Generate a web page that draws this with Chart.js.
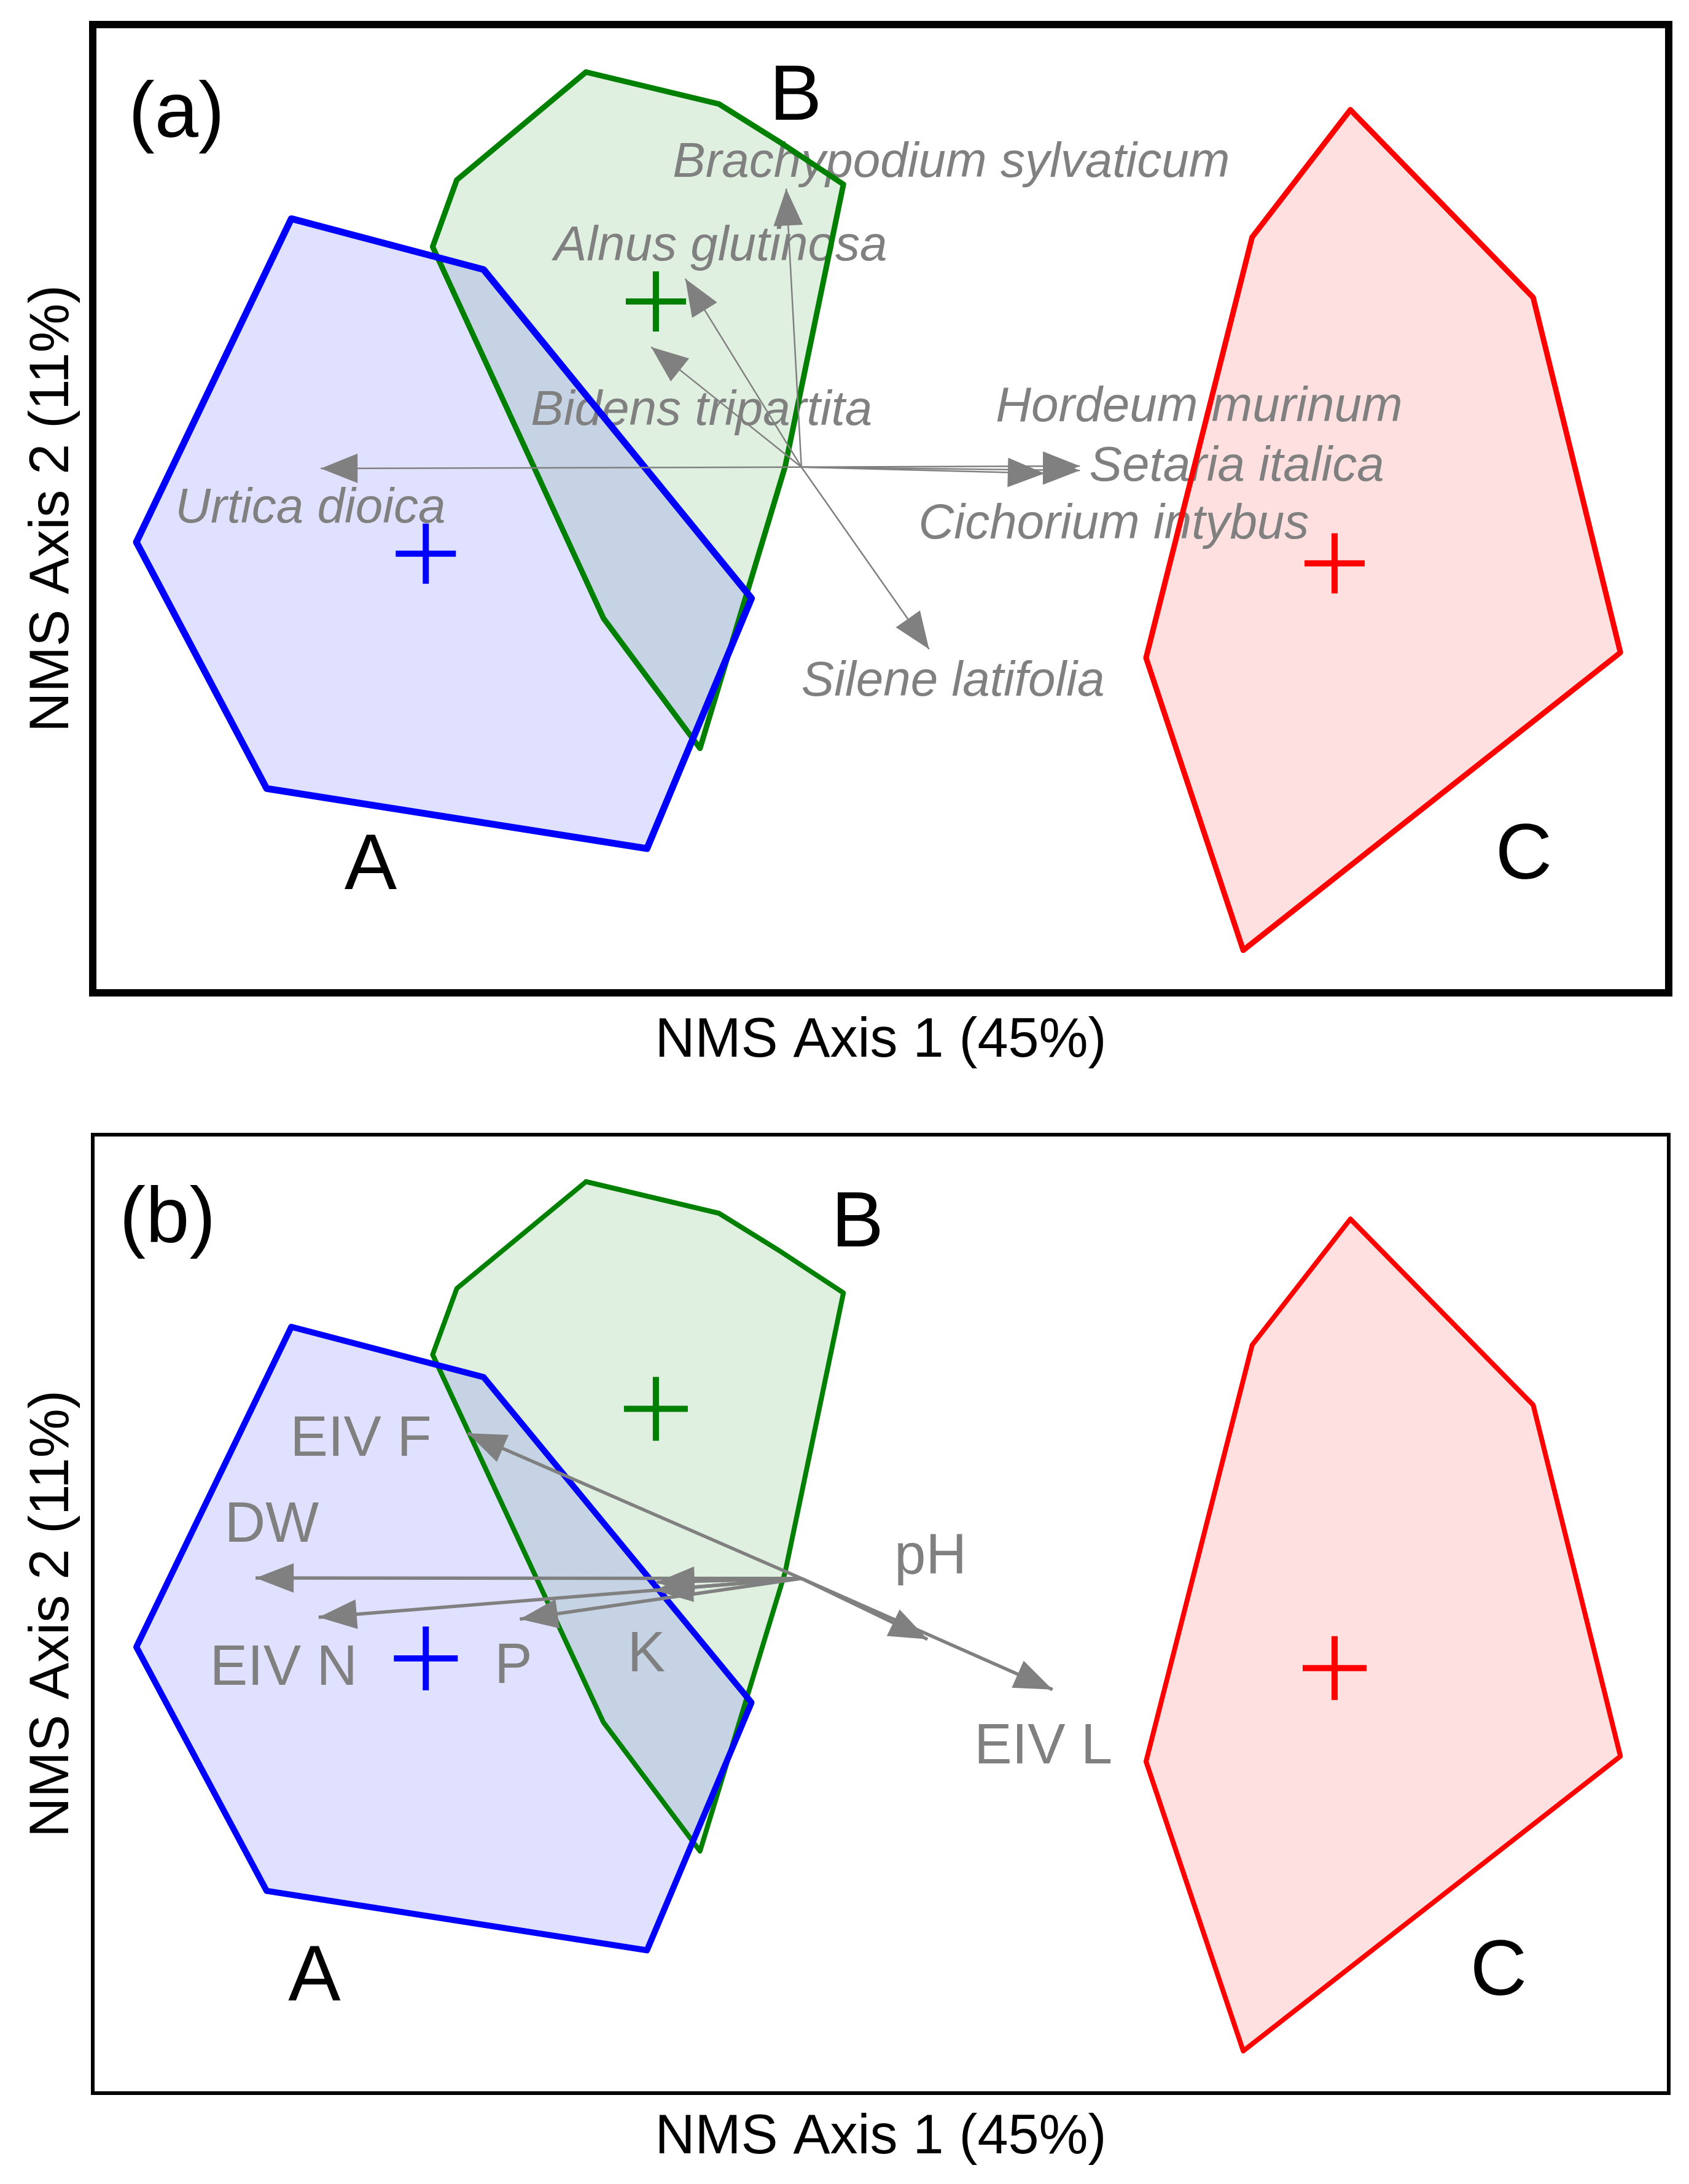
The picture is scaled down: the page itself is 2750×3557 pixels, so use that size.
<!DOCTYPE html>
<html>
<head>
<meta charset="utf-8">
<script src="https://cdn.jsdelivr.net/npm/chart.js@4.4.1/dist/chart.umd.min.js"></script>
<style>
html, body { margin: 0; padding: 0; background: #ffffff; width: 2750px; height: 3557px; overflow: hidden; }
canvas { position: absolute; left: 0; display: block; }
#panelA { top: 0px; }
#panelB { top: 1790px; }
</style>
</head>
<body>
<canvas id="panelA" width="2750" height="1790"></canvas>
<canvas id="panelB" width="2750" height="1767"></canvas>
<script>
// ---------------- DATA (NMS ordination scores) ----------------
const groupNames = ['A', 'B', 'C'];
// convex hulls of the three site groups (Axis 1, Axis 2)
const hullA = [[-1.122, 0.599], [-0.756, 0.494], [-0.246, -0.185], [-0.445, -0.702], [-1.169, -0.578], [-1.417, -0.069]];
const hullB = [[-0.561, 0.902], [-0.308, 0.836], [-0.189, 0.755], [-0.071, 0.670], [-0.182, 0.087], [-0.344, -0.495], [-0.528, -0.226], [-0.853, 0.541], [-0.807, 0.679]];
const hullC = [[0.894, 0.824], [1.242, 0.436], [1.408, -0.297], [0.690, -0.912], [0.505, -0.308], [0.707, 0.561]];
// group centroids (A, B, C)
const centroids = [[-0.866, -0.093], [-0.428, 0.428], [0.864, -0.113]];

// panel (a): species vectors
const speciesNames = ['Urtica dioica', 'Brachypodium sylvaticum', 'Alnus glutinosa', 'Bidens tripartita', 'Silene latifolia', 'Hordeum murinum', 'Setaria italica', 'Cichorium intybus'];
const speciesOrigin = [-0.151, 0.086];
const speciesTips = [[-1.066, 0.083], [-0.180, 0.661], [-0.372, 0.475], [-0.437, 0.334], [0.092, -0.290], [0.379, 0.088], [0.379, 0.079], [0.312, 0.073]];

// panel (b): environmental vectors ('' = unlabelled vector)
const envNames = ['EIV F', 'DW', 'EIV N', 'P', 'K', '', 'pH', 'EIV L'];
const envOrigin = [-0.151, 0.074];
const envTips = [[-0.786, 0.377], [-1.190, 0.075], [-1.070, -0.007], [-0.687, -0.011], [-0.430, 0.049], [-0.427, 0.066], [0.089, -0.053], [0.327, -0.158]];

// axis titles and panel tags
const xAxisTitle = 'NMS Axis 1 (45%)';
const yAxisTitle = 'NMS Axis 2 (11%)';
const panelTags = ['(a)', '(b)'];

// ---------------- LAYOUT (label anchors, left/baseline, in axis units) ----------------
const speciesLabelAt = [[-1.343, -0.029], [-0.396, 0.685], [-0.622, 0.513], [-0.666, 0.173], [-0.151, -0.386], [0.219, 0.181], [0.397, 0.058], [0.072, -0.062]];
const envLabelAt = [[-1.124, 0.330], [-1.249, 0.151], [-1.277, -0.148], [-0.735, -0.144], [-0.482, -0.120], null, [0.026, 0.084], [0.178, -0.312]];
const groupLabelAt = [
  [[-1.021, -0.786], [-0.212, 0.803], [1.170, -0.764]],
  [[-1.128, -0.807], [-0.094, 0.767], [1.122, -0.795]]
];
const tagAt = [[-1.432, 0.768], [-1.449, 0.776]];

// ---------------- STYLE ----------------
const FONT = "'Liberation Sans', Arial, Helvetica, sans-serif";
const GRAY = '#808080';
const groupLine = ['#0000ff', '#008000', '#ff0000'];
const groupFill = ['rgba(0,0,255,0.12)', 'rgba(0,128,0,0.12)', 'rgba(255,0,0,0.12)'];

function hullDataset(points, idx, width, order) {
  const d = points.map(p => ({ x: p[0], y: p[1] }));
  d.push({ x: points[0][0], y: points[0][1] });
  return {
    label: 'hull ' + groupNames[idx], data: d, showLine: true,
    borderColor: groupLine[idx], backgroundColor: groupFill[idx], fill: 'shape',
    borderWidth: width, borderJoinStyle: 'round', borderCapStyle: 'round',
    pointRadius: 0, pointHoverRadius: 0, tension: 0, order: order
  };
}

function arrowDataset(origin, tip, width) {
  return {
    data: [{ x: origin[0], y: origin[1] }, { x: tip[0], y: tip[1] }],
    showLine: true, borderColor: GRAY, backgroundColor: GRAY, fill: false,
    borderWidth: width, pointRadius: 0, pointHoverRadius: 0, isArrow: true, order: 1
  };
}

function makePanel(canvasId, cfg) {
  const datasets = [];
  datasets.push({
    label: 'centroids',
    data: centroids.map(c => ({ x: c[0], y: c[1] })),
    showLine: false, pointStyle: 'cross',
    pointRadius: cfg.crossR, pointHoverRadius: cfg.crossR, pointBorderWidth: cfg.crossW,
    pointBorderColor: groupLine, pointBackgroundColor: groupLine, order: 0
  });
  cfg.tips.forEach(t => datasets.push(arrowDataset(cfg.origin, t, cfg.arrowW)));
  datasets.push(hullDataset(hullA, 0, cfg.hullW[0], 2));
  datasets.push(hullDataset(hullC, 2, cfg.hullW[2], 2));
  datasets.push(hullDataset(hullB, 1, cfg.hullW[1], 3));

  const plugin = {
    id: 'panelDecor' + canvasId,
    beforeDatasetsDraw(chart) {
      const ctx = chart.ctx, xs = chart.scales.x, ys = chart.scales.y;
      const put = (txt, at, font, color) => {
        if (!at || !txt) return;
        ctx.save();
        ctx.font = font; ctx.fillStyle = color;
        ctx.textAlign = 'left'; ctx.textBaseline = 'alphabetic';
        ctx.fillText(txt, xs.getPixelForValue(at[0]), ys.getPixelForValue(at[1]));
        ctx.restore();
      };
      cfg.names.forEach((n, i) => put(n, cfg.labelAt[i], cfg.labelFont, GRAY));
      groupNames.forEach((g, i) => put(g, cfg.groupAt[i], '128px ' + FONT, '#000000'));
      put(cfg.tag, cfg.tagAt, '128px ' + FONT, '#000000');
    },
    afterDatasetDraw(chart, args) {
      const ds = chart.data.datasets[args.index];
      if (!ds.isArrow) return;
      const pts = args.meta.data;
      const a = pts[0], b = pts[1];
      const ang = Math.atan2(b.y - a.y, b.x - a.x);
      const ctx = chart.ctx;
      ctx.save();
      ctx.translate(b.x, b.y);
      ctx.rotate(ang);
      ctx.beginPath();
      ctx.moveTo(0, 0);
      ctx.lineTo(-cfg.headL, cfg.headW);
      ctx.lineTo(-cfg.headL, -cfg.headW);
      ctx.closePath();
      ctx.fillStyle = GRAY;
      ctx.fill();
      ctx.restore();
    },
    afterDraw(chart) {
      const ctx = chart.ctx, a = chart.chartArea;
      ctx.save();
      ctx.strokeStyle = '#000000';
      ctx.lineWidth = cfg.frameW;
      ctx.strokeRect(a.left, a.top, a.right - a.left, a.bottom - a.top);
      ctx.restore();
    }
  };

  return new Chart(document.getElementById(canvasId), {
    type: 'scatter',
    data: { datasets: datasets },
    options: {
      responsive: false, animation: false, events: [],
      layout: { autoPadding: false, padding: { left: 0, right: 33, top: cfg.padTop, bottom: 0 } },
      plugins: { legend: { display: false }, tooltip: { enabled: false }, filler: { drawTime: 'beforeDatasetsDraw' } },
      scales: {
        x: {
          type: 'linear', position: 'bottom', min: -1.5, max: 1.5,
          grid: { display: false }, border: { display: false }, ticks: { display: false },
          title: { display: true, text: xAxisTitle, color: '#000000', font: { family: FONT, size: 90, weight: 'normal' }, padding: { top: 0, bottom: cfg.xTitlePad } },
          afterFit(s) { s.height = cfg.xH; }
        },
        y: {
          type: 'linear', position: 'left', min: -1, max: 1,
          grid: { display: false }, border: { display: false }, ticks: { display: false },
          title: { display: true, text: yAxisTitle, color: '#000000', font: { family: FONT, size: 90, weight: 'normal' }, padding: { top: 32, bottom: 0 } },
          afterFit(s) { s.width = 151; }
        }
      }
    },
    plugins: [plugin]
  });
}

makePanel('panelA', {
  origin: speciesOrigin, tips: speciesTips, names: speciesNames, labelAt: speciesLabelAt,
  labelFont: 'italic 80px ' + FONT, groupAt: groupLabelAt[0], tag: panelTags[0], tagAt: tagAt[0],
  arrowW: 2.5, headL: 60, headW: 24, crossR: 49, crossW: 10, hullW: [11, 9, 9], frameW: 12,
  padTop: 40, xH: 173, xTitlePad: 40
});
makePanel('panelB', {
  origin: envOrigin, tips: envTips, names: envNames, labelAt: envLabelAt,
  labelFont: '92px ' + FONT, groupAt: groupLabelAt[1], tag: panelTags[1], tagAt: tagAt[1],
  arrowW: 5.5, headL: 62, headW: 24, crossR: 52, crossW: 10, hullW: [10, 8, 8], frameW: 6,
  padTop: 58, xH: 148, xTitlePad: 21
});
</script>
</body>
</html>
